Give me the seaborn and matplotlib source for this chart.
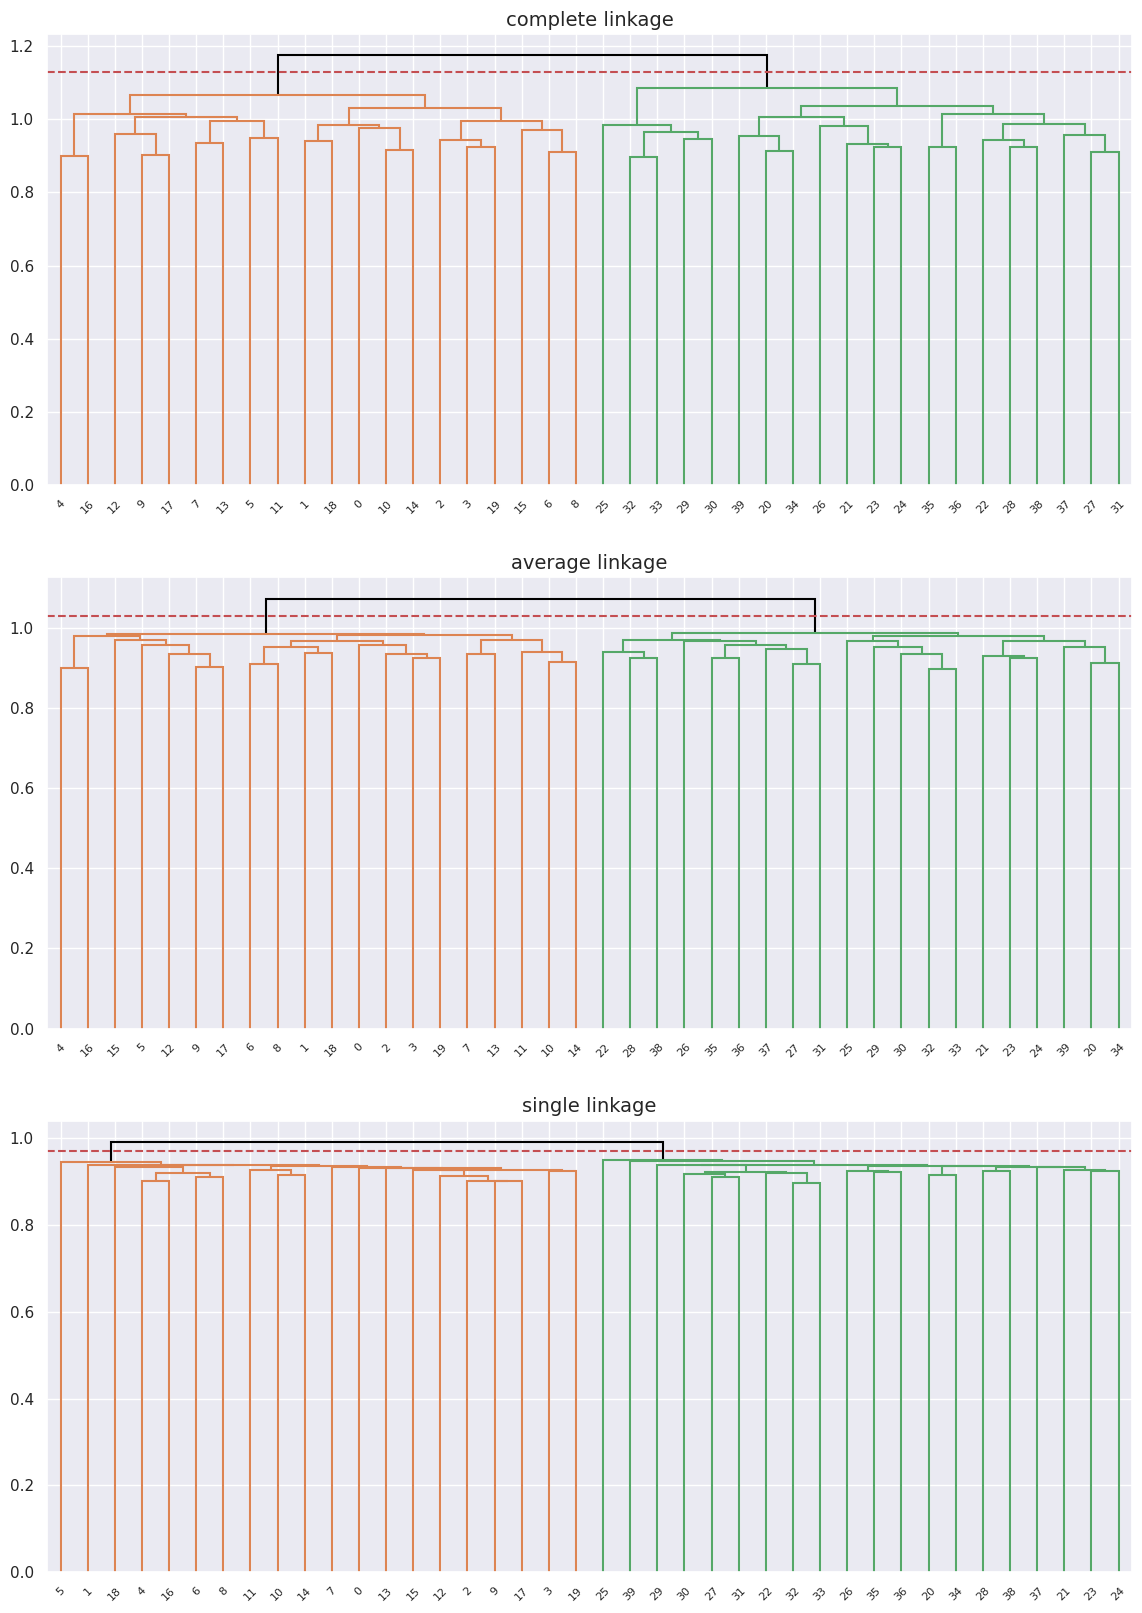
import matplotlib
matplotlib.use("Agg")
import matplotlib.pyplot as plt
import seaborn as sns

sns.set_theme(style="darkgrid")

N_LEAVES = 40
TITLES = ["complete linkage", "average linkage", "single linkage"]
CUT_HEIGHTS = [1.128, 1.029, 0.971]

# merge rows: [left, right, height]; ids >= 40 refer to row (id - 40)
complete_merges = [
    [4, 16, 0.900], [9, 17, 0.903], [12, 41, 0.960], [7, 13, 0.935],
    [5, 11, 0.949], [43, 44, 0.995], [42, 45, 1.006], [40, 46, 1.015],
    [1, 18, 0.939], [10, 14, 0.915], [0, 49, 0.976], [48, 50, 0.984],
    [3, 19, 0.925], [2, 52, 0.944], [6, 8, 0.911], [15, 54, 0.969],
    [53, 55, 0.995], [51, 56, 1.030], [47, 57, 1.067],
    [32, 33, 0.897], [29, 30, 0.946], [59, 60, 0.965], [25, 61, 0.984],
    [20, 34, 0.914], [39, 63, 0.954], [23, 24, 0.925], [21, 65, 0.933],
    [26, 66, 0.981], [64, 67, 1.006], [35, 36, 0.925], [28, 38, 0.925],
    [22, 70, 0.944], [27, 31, 0.911], [37, 72, 0.957], [71, 73, 0.987],
    [69, 74, 1.014], [68, 75, 1.036], [62, 76, 1.085], [58, 77, 1.174],
]

average_merges = [
    [4, 16, 0.899], [9, 17, 0.902], [12, 41, 0.934], [5, 42, 0.957],
    [15, 43, 0.969], [40, 44, 0.979], [6, 8, 0.909], [1, 18, 0.937],
    [46, 47, 0.953], [3, 19, 0.924], [2, 49, 0.934], [0, 50, 0.957],
    [48, 51, 0.967], [7, 13, 0.934], [10, 14, 0.914], [11, 54, 0.939],
    [53, 55, 0.969], [52, 56, 0.983], [45, 57, 0.985],
    [28, 38, 0.924], [22, 59, 0.939], [35, 36, 0.924], [27, 31, 0.909],
    [37, 62, 0.947], [61, 63, 0.957], [26, 64, 0.967], [60, 65, 0.969],
    [32, 33, 0.897], [30, 67, 0.934], [29, 68, 0.952], [25, 69, 0.967],
    [23, 24, 0.924], [21, 71, 0.929], [20, 34, 0.912], [39, 73, 0.952],
    [72, 74, 0.967], [70, 75, 0.979], [66, 76, 0.987], [58, 77, 1.073],
]

single_merges = [
    [4, 16, 0.902], [6, 8, 0.912], [40, 41, 0.921], [18, 42, 0.935],
    [10, 14, 0.916], [11, 44, 0.927], [9, 17, 0.901], [2, 46, 0.902],
    [12, 47, 0.914], [15, 48, 0.927], [3, 19, 0.925], [49, 50, 0.928],
    [13, 51, 0.931], [0, 52, 0.932], [7, 53, 0.935], [45, 54, 0.936],
    [43, 55, 0.938], [1, 56, 0.939], [5, 57, 0.945],
    [27, 31, 0.912], [30, 59, 0.917], [32, 33, 0.898], [22, 61, 0.921],
    [60, 62, 0.922], [29, 63, 0.938], [35, 36, 0.923], [26, 65, 0.924],
    [20, 34, 0.915], [28, 38, 0.926], [23, 24, 0.926], [21, 69, 0.928],
    [37, 70, 0.934], [68, 71, 0.935], [67, 72, 0.936], [66, 73, 0.9375],
    [64, 74, 0.940], [39, 75, 0.947], [25, 76, 0.951], [58, 77, 0.9915],
]

ALL_MERGES = [complete_merges, average_merges, single_merges]
pal = sns.color_palette("deep")
BRANCH_COLORS = [pal[1], pal[2]]
ABOVE_COLOR = "black"


def draw_dendrogram(ax, merges, cut, title):
    n = N_LEAVES
    root = n + len(merges) - 1
    order = []

    def walk(c):
        if c < n:
            order.append(c)
        else:
            a, b, _ = merges[c - n]
            walk(int(a))
            walk(int(b))

    walk(root)
    leaf_x = {leaf: 5 + 10 * i for i, leaf in enumerate(order)}

    def pos(c):
        if c < n:
            return leaf_x[c], 0.0
        a, b, h = merges[c - n]
        xa, _ = pos(int(a))
        xb, _ = pos(int(b))
        return (xa + xb) / 2.0, h

    def draw(c, color):
        a, b, h = merges[c - n]
        xa, ha = pos(int(a))
        xb, hb = pos(int(b))
        ax.plot([xa, xa, xb, xb], [ha, h, h, hb], color=color, lw=1.5,
                solid_capstyle="butt", solid_joinstyle="miter")

    def draw_sub(c, color):
        if c < n:
            return
        a, b, _ = merges[c - n]
        draw(c, color)
        draw_sub(int(a), color)
        draw_sub(int(b), color)

    ra, rb = int(merges[-1][0]), int(merges[-1][1])
    draw(root, ABOVE_COLOR)
    draw_sub(ra, BRANCH_COLORS[0])
    draw_sub(rb, BRANCH_COLORS[1])

    ax.axhline(cut, color=pal[3], ls="--", lw=1.5)

    top = merges[-1][2]
    ax.set_xlim(0, 10 * n)
    ax.set_ylim(0, top * 1.05)
    ax.set_xticks([leaf_x[l] for l in order])
    ax.set_xticklabels([str(l) for l in order], rotation=45, fontsize=8)
    ax.tick_params(axis="y", labelsize=11)
    ax.set_title(title, fontsize=14)


fig, axes = plt.subplots(3, 1, figsize=(11.42, 16.13), dpi=100)
fig.subplots_adjust(left=0.0412, right=0.9913, top=0.979, bottom=0.0254,
                    hspace=0.204)
for ax, merges, cut, title in zip(axes, ALL_MERGES, CUT_HEIGHTS, TITLES):
    draw_dendrogram(ax, merges, cut, title)

fig.savefig("out.png", dpi=100)
